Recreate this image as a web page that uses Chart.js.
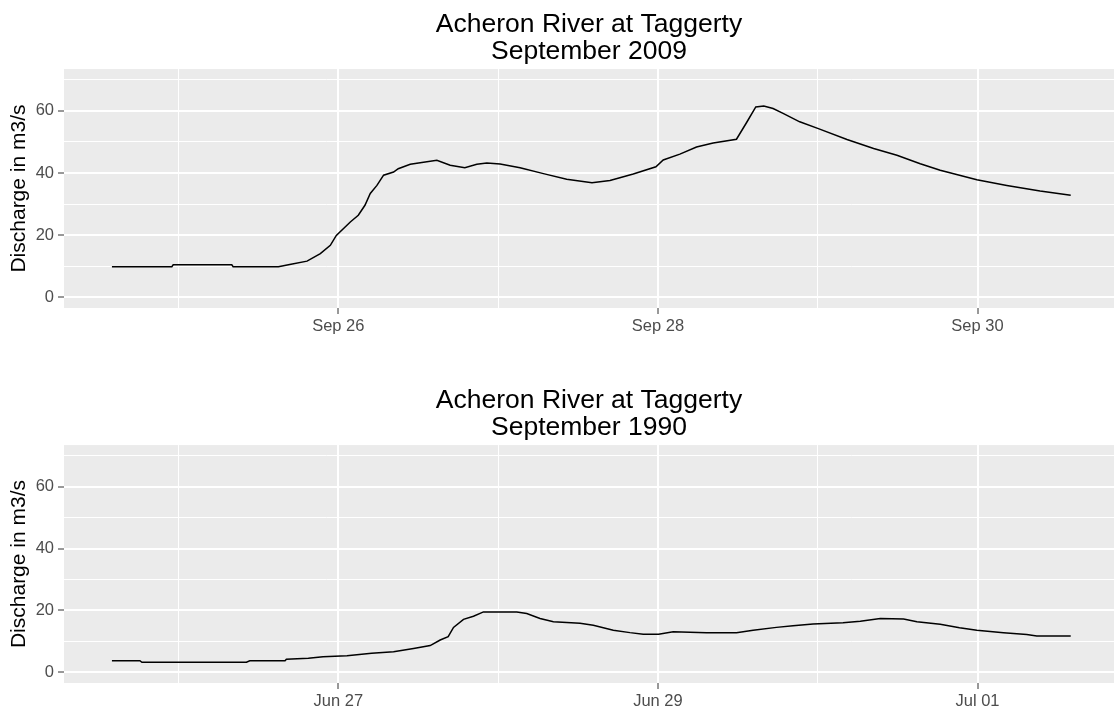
<!DOCTYPE html>
<html>
<head>
<meta charset="utf-8">
<script src="https://cdn.jsdelivr.net/npm/chart.js@4.4.1/dist/chart.umd.min.js"></script>
<style>
  html, body { margin: 0; padding: 0; background: #fff; }
  #wrap { position: relative; width: 1114px; height: 713px; overflow: hidden; }
  canvas { position: absolute; left: 0; }
</style>
</head>
<body>
<div id="wrap">
  <canvas id="c2009" width="1114" height="356" style="top:0"></canvas>
  <canvas id="c1990" width="1114" height="337" style="top:376px"></canvas>
</div>
<script>
// Heures depuis minuit du premier jour affiché (24 sept. 2009 / 25 juin 1990)
const hours2009 = [14, 23, 23.2, 32, 32.2, 39, 40.7, 43.3, 45.3, 46.8, 47.7, 49.8, 51, 52, 52.8, 53.8,
  54.8, 56.3, 57, 58.8, 60.8, 62.8, 64.8, 67, 68.8, 70.3, 72.3, 75.3, 78.8, 82.3, 86.1, 88.8, 92.3,
  95.7, 96.8, 99.3, 101.8, 104.3, 107.8, 109.3, 110.7, 111.9, 113.3, 114.8, 117.3, 120.1, 124.4,
  128.4, 131.9, 135.4, 138.4, 143.9, 148.4, 153.4, 158];
const flow2009 = [9.8, 9.8, 10.4, 10.4, 9.8, 9.8, 10.5, 11.6, 14, 16.7, 19.9, 24.2, 26.4, 29.6, 33.4, 36,
  39.3, 40.3, 41.4, 42.8, 43.5, 44.1, 42.5, 41.7, 42.8, 43.2, 42.9, 41.7, 39.8, 38, 36.9, 37.6, 39.7,
  42, 44.2, 46.1, 48.4, 49.7, 50.9, 56.2, 61.3, 61.6, 60.8, 59.2, 56.5, 54.3, 50.8,
  47.9, 45.7, 43, 40.9, 37.8, 36, 34.2, 32.8];

const hours1990 = [14, 18.2, 18.5, 34.2, 34.7, 40, 40.2, 43.5, 45.7, 49.3, 53, 56.3, 59.3, 61.8, 63.3,
  64.5, 65.3, 66.8, 68.3, 69.8, 74.8, 76.3, 78.3, 80.3, 84.3, 86.3, 89.3, 91.8, 93.8, 96.1, 98.3,
  103.3, 107.8, 110.3, 113.8, 116.3, 119.3, 123.8, 126.4, 129.4, 132.9, 134.9, 138.4, 141.3, 143.9,
  147.9, 151.4, 152.9, 158];
const flow1990 = [3.7, 3.7, 3.2, 3.2, 3.7, 3.7, 4.2, 4.5, 5, 5.3, 6.1, 6.6, 7.7, 8.6, 10.4,
  11.5, 14.5, 17.1, 18.1, 19.5, 19.5, 19, 17.4, 16.3, 15.8, 15.2, 13.6, 12.8, 12.3, 12.3, 13.1,
  12.8, 12.8, 13.6, 14.5, 15, 15.6, 16, 16.5, 17.4, 17.2, 16.3, 15.5, 14.4, 13.6,
  12.8, 12.2, 11.7, 11.7];

// Graduations (minuit de chaque jour) et libellés ; '' = ligne mineure
const xTickHours = [24, 48, 72, 96, 120, 144];
const xLabels2009 = ['', 'Sep 26', '', 'Sep 28', '', 'Sep 30'];
const xLabels1990 = ['', 'Jun 27', '', 'Jun 29', '', 'Jul 01'];
const yTickValues = [0, 10, 20, 30, 40, 50, 60, 70];
const yLabels = ['0', '', '20', '', '40', '', '60', ''];

const FONT = "'Liberation Sans', Arial, sans-serif";

// Fond gris du panneau, façon ggplot
const panelBg = {
  id: 'panelBg',
  beforeDraw(chart) {
    const a = chart.chartArea;
    const ctx = chart.ctx;
    ctx.save();
    ctx.fillStyle = '#EBEBEB';
    ctx.fillRect(a.left, a.top, a.right - a.left, a.bottom - a.top);
    ctx.restore();
  },
};

function makeChart(id, titre, hours, flows, xLabels, xAxisHeight) {
  const data = hours.map((h, i) => ({ x: h, y: flows[i] }));
  const isMajorX = (ctx) => xLabels[ctx.index] !== '';
  const isMajorY = (ctx) => yLabels[ctx.index] !== '';

  return new Chart(document.getElementById(id), {
    type: 'line',
    data: {
      datasets: [{
        data,
        borderColor: '#000',
        borderWidth: 1.5,
        pointRadius: 0,
        tension: 0,
        fill: false,
      }],
    },
    plugins: [panelBg],
    options: {
      responsive: false,
      animation: false,
      devicePixelRatio: 1,
      layout: { padding: 0 },
      plugins: {
        legend: { display: false },
        tooltip: { enabled: false },
        title: {
          display: true,
          fullSize: false,
          text: titre,
          color: '#000',
          font: { family: FONT, size: 26.5, weight: 'normal', lineHeight: 1.02 },
          padding: { top: 11, bottom: 4 },
        },
      },
      scales: {
        x: {
          type: 'linear',
          min: 6.8,
          max: 164.5,
          afterBuildTicks: (s) => { s.ticks = xTickHours.map((v) => ({ value: v })); },
          afterFit: (s) => { s.height = xAxisHeight; },
          border: { display: false },
          grid: {
            color: '#FFFFFF',
            lineWidth: (ctx) => (isMajorX(ctx) ? 2 : 1),
            drawTicks: true,
            tickLength: 6,
            tickColor: (ctx) => (isMajorX(ctx) ? '#333333' : 'rgba(0,0,0,0)'),
            tickWidth: 1,
          },
          ticks: {
            autoSkip: false,
            maxRotation: 0,
            padding: 3,
            color: '#4D4D4D',
            font: { family: FONT, size: 16.5 },
            callback: (v, i) => xLabels[i],
          },
        },
        y: {
          min: -3.5,
          max: 73.5,
          afterBuildTicks: (s) => { s.ticks = yTickValues.map((v) => ({ value: v })); },
          afterFit: (s) => { s.width = 64; },
          border: { display: false },
          grid: {
            color: '#FFFFFF',
            lineWidth: (ctx) => (isMajorY(ctx) ? 2 : 1),
            drawTicks: true,
            tickLength: 6,
            tickColor: (ctx) => (isMajorY(ctx) ? '#333333' : 'rgba(0,0,0,0)'),
            tickWidth: 1,
          },
          ticks: {
            padding: 4,
            color: '#4D4D4D',
            font: { family: FONT, size: 16.5 },
            callback: (v, i) => yLabels[i],
          },
          title: {
            display: true,
            text: 'Discharge in m3/s',
            color: '#000',
            font: { family: FONT, size: 21 },
            padding: { top: 7, bottom: 0 },
          },
        },
      },
    },
  });
}

makeChart('c2009', ['Acheron River at Taggerty', 'September 2009'], hours2009, flow2009, xLabels2009, 48);
makeChart('c1990', ['Acheron River at Taggerty', 'September 1990'], hours1990, flow1990, xLabels1990, 30);
</script>
</body>
</html>
